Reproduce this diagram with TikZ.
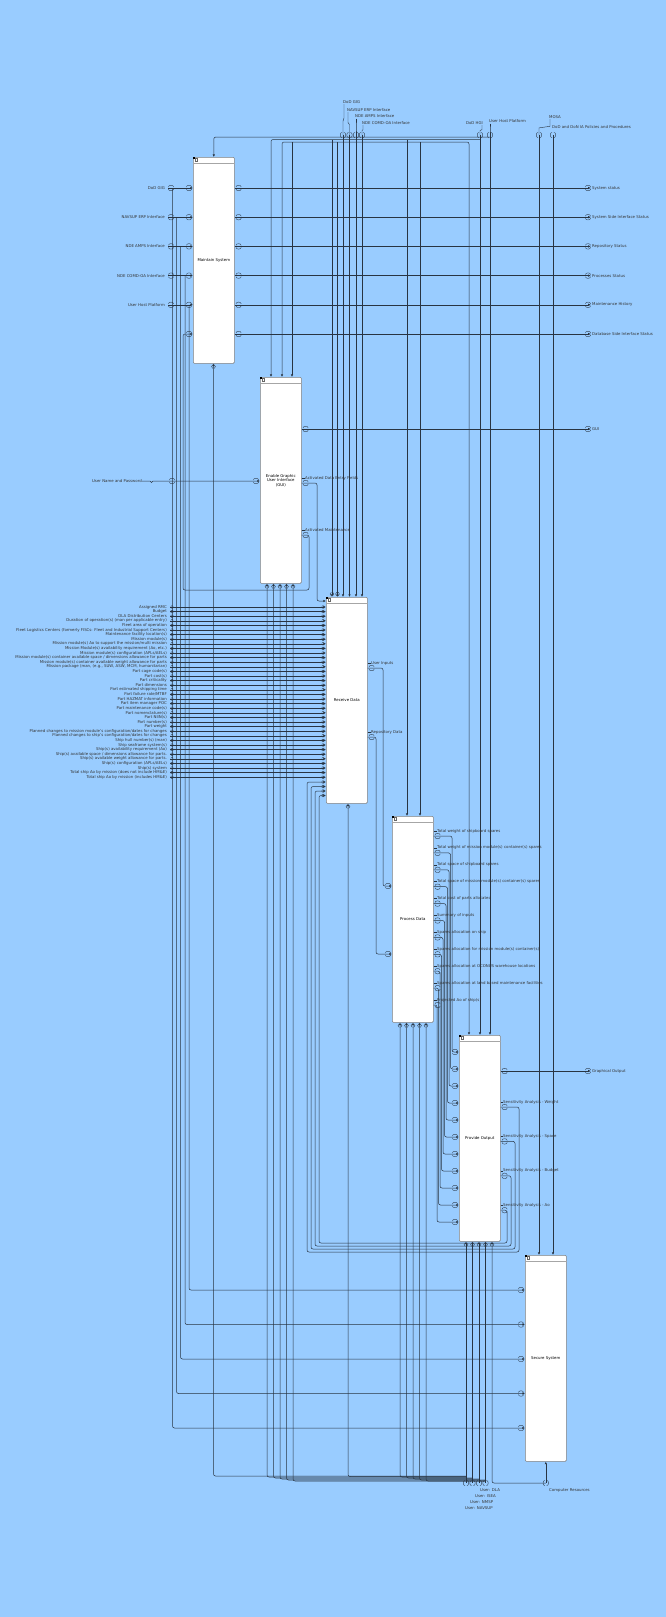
\documentclass[tikz,border=0pt]{standalone}
\usepackage{fontspec}
\setmainfont{DejaVu Sans}
\usetikzlibrary{arrows.meta,calc}
\definecolor{sheet}{RGB}{153,204,255}
\definecolor{wirec}{RGB}{40,52,66}
\tikzset{tun/.pic={\draw[wirec,line width=0.35pt,rounded corners=0pt]
  (-2.6,-1) .. controls (-2.6,-3.3) and (2.6,-3.3) .. (2.6,-1)
  (-2.6,1) .. controls (-2.6,3.3) and (2.6,3.3) .. (2.6,1);}}
\begin{document}
\begin{tikzpicture}[x=1pt,y=-1pt,>={Latex[length=2.6pt,width=2.4pt]},
  every node/.style={font=\fontsize{3.9}{4.5}\selectfont,inner sep=0pt}]
\tikzstyle{func}=[draw=black!50,fill=white,rounded corners=1pt,line width=0.6pt,
  minimum width=41pt,minimum height=206pt,anchor=north west,align=center]
\tikzstyle{wire}=[draw=wirec,line width=0.5pt,rounded corners=2pt]
\tikzstyle{lbl}=[text=black!80]

\fill[sheet] (0,0) rectangle (666,1617);
\useasboundingbox (0,0) rectangle (666,1617);

% activity boxes
\node[func] (ms) at (193,157) {Maintain System};
\node[func] (gu) at (260,377) {Enable Graphic\\User Interface\\(GUI)};
\node[func] (rd) at (326,597) {Receive Data};
\node[func] (pd) at (392,816) {Process Data};
\node[func] (po) at (459,1035) {Provide Output};
\node[func] (ss) at (525,1255) {Secure System};
\foreach \b in {ms,gu,rd,pd,po,ss}{
  \draw[black!35,line width=0.5pt] ([yshift=-6pt]\b.north west) -- ([yshift=-6pt]\b.north east);
  \fill[black] (\b.north west) rectangle ++(1.8,1.8);
  \draw[black!60,line width=0.25pt] ([shift={(2.4pt,-1.6pt)}]\b.north west) rectangle ++(1.8,2.6);
}

% controls at the top
\node[lbl,anchor=west] (tc0) at (343,102) {DoD GIG};
\node[lbl,anchor=west] (tc1) at (347,110) {NAVSUP ERP Interface};
\node[lbl,anchor=west] (tc2) at (355,116.5) {NDE AMPS Interface};
\node[lbl,anchor=west] (tc3) at (362,123) {NDE COMD-OA Interface};
\node[lbl,anchor=east] (tc4) at (483,123) {DoD HGI};
\node[lbl,anchor=west] (tc5) at (489,121.5) {User Host Platform};
\node[lbl,anchor=west] (tc6) at (549,117) {MOSA};
\node[lbl,anchor=west] (tc7) at (552,127) {DoD and DoN IA Policies and Procedures};
\foreach \i/\mx in {0/343,1/349.5,2/356,3/362,4/480,5/490,6/539,7/553}
  \coordinate (tm\i) at (\mx,135);
\foreach \i in {0,1,2,3,5,6}
  \draw[wire,rounded corners=0pt,line width=0.4pt] ([xshift=1pt,yshift=-0.5pt]tc\i.south west) coordinate (la)
    -- ($(la)!.45!(la |- tm\i)$) -- ($(tm\i)!.45!(tm\i |- la)$) -- (tm\i);
\draw[wire,rounded corners=0pt,line width=0.4pt] ([xshift=-1pt,yshift=-0.5pt]tc4.south east) coordinate (la)
    -- ($(la)!.45!(la |- tm4)$) -- ($(tm4)!.45!(tm4 |- la)$) -- (tm4);
\foreach \i in {0,1,2,3} \draw[wire,->] (tm\i) -- (tm\i |- rd.north);
\foreach \i in {4,5} \draw[wire,->] (tm\i) -- (tm\i |- po.north);
\foreach \i in {6,7} \draw[wire,->] (tm\i) -- (tm\i |- ss.north);
\draw[wire,->] (tm5 |- 0,137) -| (ms.north);
\draw[wire,->] (tm4 |- 0,139.5) -| (271,0 |- gu.north);
\draw[wire,<->] (469,0 |- po.north) |- (282,142) -- (282,0 |- gu.north);
\foreach \bx/\by/\t in {292/142/gu,332/139.5/rd,337.5/142/rd,407/139.5/pd,420/142/pd}
  \draw[wire,->] (\bx,\by) -- (\bx,0 |- \t.north);
\foreach \i in {0,...,7} \pic[rotate=90] at (tm\i) {tun};

% Maintain System
\foreach \lab [count=\i from 0] in {DoD GIG,NAVSUP ERP Interface,NDE AMPS Interface,NDE COMD-OA Interface,User Host Platform}{
  \node[lbl,anchor=east] (msl\i) at (165,188+29.2*\i) {\lab};
  \draw[wire,->] ([xshift=3pt]msl\i.east) -- (ms.west |- msl\i);
  \pic at ($(msl\i.east)+(6,0)$) {tun};
  \pic at ($(ms.west |- msl\i)+(-4,0)$) {tun};
}
\coordinate (msi5) at (ms.west |- 0,334);
\pic at ($(msi5)+(-4,0)$) {tun};
\foreach \lab [count=\i from 0] in {System status,System Side Interface Status,Repository Status,Processes Status,Maintenance History,Database Side Interface Status}{
  \node[lbl,anchor=west] (mso\i) at (592,188+29.2*\i) {\lab};
  \draw[wire,->,shorten >=1.2pt] (ms.east |- mso\i) -- (mso\i.west);
  \pic at ($(ms.east |- mso\i)+(4,0)$) {tun};
  \pic at ($(mso\i.west)+(-4,0)$) {tun};
}
\foreach \k in {0,...,4} \coordinate (ssi\k) at ($(ss.north west)+(0,35+34.5*\k)$);
\foreach \i/\vx/\k in {0/172.5/4,1/176.5/3,2/180.5/2,3/185/1,4/189/0}{
  \draw[wire,->] (\vx,0 |- msl\i) -- (\vx,0 |- ssi\k) -- (ssi\k);
  \pic at ($(ssi\k)+(-4,0)$) {tun};
}

% Enable GUI
\node[lbl,anchor=east] (gul) at (142,481) {User Name and Password};
\draw[wire,rounded corners=0pt,->] (gul.east) -- ++(8,0) -- ++(1.5,1.5) -- ++(1.5,-1.5) -- (gu.west |- gul);
\pic at ($(gul.east)+(30,0)$) {tun};
\pic at ($(gu.west |- gul)+(-4,0)$) {tun};
\node[lbl,anchor=west] (guo0) at (592,429) {GUI};
\draw[wire,->,shorten >=1.2pt] (gu.east |- guo0) -- (guo0.west);
\pic at ($(gu.east |- guo0)+(4,0)$) {tun};
\pic at ($(guo0.west)+(-4,0)$) {tun};
\node[lbl,anchor=west] (guo1) at (305,478) {Activated Data Entry Fields};
\node[lbl,anchor=west] (guo2) at (305,530) {Activated Maintenance};
\coordinate (rdi0) at (rd.west |- 0,601);
\foreach \i in {1,2}{
  \draw[wire] (gu.east |- guo\i) -- (guo\i.west);
  \pic at ($(gu.east |- guo\i)+(4,5)$) {tun};
}
\draw[wire,->] ($(gu.east |- guo1)+(0,5)$) -| (317,0 |- rdi0) -- (rdi0);
\draw[wire,->] ($(gu.east |- guo2)+(0,5)$) -| (309,590) -| (183,0 |- msi5) -- (msi5);

% Receive Data
\foreach \lab [count=\i from 0] in {Assigned RMC,Budget,DLA Distribution Centers,
  Duration of operation(s) (man per applicable entry),Fleet area of operation,
  Fleet Logistics Centers (formerly FISCs: Fleet and Industrial Support Centers),
  Maintenance facility location(s),Mission module(s),
  Mission module(s) Ao to support the mission/multi mission,
  {Mission Module(s) availability requirement (Ao, etc.)},
  Mission module(s) configuration (APLs/AELs),
  Mission module(s) container available space / dimensions allowance for parts,
  Mission module(s) container available weight allowance for parts,
  {Mission package (man, (e.g., SUW, ASW, MCM, humanitarian)},
  Part cage code(s),Part cost(s),Part criticality,Part dimensions,
  Part estimated shipping time,Part failure rate/MTBF,Part HAZMAT information,
  Part item manager POC,Part maintenance code(s),Part nomenclature(s),Part NIIN(s),
  Part number(s),Part weight,
  Planned changes to mission module's configuration/dates for changes,
  Planned changes to ship's configuration/dates for changes,
  Ship hull number(s) (man),Ship seaframe system(s),
  Ship(s) availability requirement (Ao),
  Ship(s) available space / dimensions allowance for parts.,
  Ship(s) available weight allowance for parts.,
  Ship(s) configuration (APLs/AELs),Ship(s) system,
  Total ship Ao by mission (does not include HM\&E),
  Total ship Ao by mission (includes HM\&E)}{
  \node[lbl,anchor=east] (rdl\i) at (167,607+4.6*\i) {\lab};
  \draw[wire,->] ([xshift=3pt]rdl\i.east) -- (rd.west |- rdl\i);
  \pic[scale=.5] at ($(rdl\i.east)+(5,0)$) {tun};
  \pic[scale=.5] at ($(rd.west |- rdl\i)+(-3,0)$) {tun};
}
\foreach \bx in {332,337.5} \pic[rotate=90,scale=.7] at ($(\bx,0 |- rd.north)+(0,-3)$) {tun};
\node[lbl,anchor=west] (rdo0) at (371,663) {User Inputs};
\node[lbl,anchor=west] (rdo1) at (371,732) {Repository Data};
\coordinate (pdi0) at (pd.west |- 0,886);
\coordinate (pdi1) at (pd.west |- 0,954);
\foreach \i/\vx in {0/383,1/376}{
  \draw[wire] (rd.east |- rdo\i) -- (rdo\i.west);
  \pic at ($(rd.east |- rdo\i)+(4,5)$) {tun};
  \draw[wire,->] ($(rd.east |- rdo\i)+(0,5)$) -| (\vx,0 |- pdi\i) -- (pdi\i);
  \pic at ($(pdi\i)+(-4,0)$) {tun};
}

% Process Data
\foreach \lab [count=\i from 0] in {Total weight of shipboard spares,
  Total weight of mission module(s) container(s) spares,Total space of shipboard spares,
  Total space of mission module(s) container(s) spares,Total cost of parts allocated,
  Summary of inputs,Spares allocation on ship,
  Spares allocation for mission module(s) container(s),
  Spares allocation at OCONUS warehouse locations,
  Spares allocation at land based maintenance facilities,Projected Ao of ship(s)}{
  \node[lbl,anchor=west] (pdo\i) at (437,831+16.9*\i) {\lab};
  \coordinate (poi\i) at (po.west |- 0,1052+17*\i);
  \pgfmathsetmacro\vx{452-1.5*\i}
  \draw[wire] (pd.east |- pdo\i) -- (pdo\i.west);
  \draw[wire,->] ($(pd.east |- pdo\i)+(0,5)$) -| (\vx,0 |- poi\i) -- (poi\i);
  \pic at ($(pd.east |- pdo\i)+(4,5)$) {tun};
  \pic at ($(poi\i)+(-4,0)$) {tun};
}

% Provide Output
\node[lbl,anchor=west] (poo0) at (592,1071) {Graphical Output};
\draw[wire,->,shorten >=1.2pt] (po.east |- poo0) -- (poo0.west);
\pic at ($(po.east |- poo0)+(4,0)$) {tun};
\pic at ($(poo0.west)+(-4,0)$) {tun};
\foreach \lab [count=\i from 1] in {Weight,Space,Budget,Ao}{
  \node[lbl,anchor=west] (poo\i) at (503,1102+34.4*\i-34.4) {Sensitivity Analysis - \lab};
  \coordinate (rdx\i) at (rd.west |- 0,777.5+4.5*\i);
  \pgfmathsetmacro\rx{523-4*\i}
  \pgfmathsetmacro\by{1255-3*\i}
  \pgfmathsetmacro\lx{303+4*\i}
  \draw[wire] (po.east |- poo\i) -- (poo\i.west);
  \draw[wire,->] ($(po.east |- poo\i)+(0,5)$) -| (\rx,\by) -| (\lx,0 |- rdx\i) -- (rdx\i);
  \pic at ($(po.east |- poo\i)+(4,5)$) {tun};
  \pic[scale=.5] at ($(rdx\i)+(-3,0)$) {tun};
}

% mechanisms down to the bottom
\foreach \j/\mx in {0/466,1/472.5,2/479,3/485.5}{
  \coordinate (bu\j) at (\mx,1483);
  \draw[wire,<-] (\mx,0 |- po.south) -- (bu\j);
  \pic[rotate=90] at (bu\j) {tun};
}
\coordinate (cr) at (ss.south |- 0,1483);
\draw[wire,<-] (492,0 |- po.south) |- (cr);
\draw[wire,<-] (ss.south) -- (cr);
\pic[rotate=90] at (cr) {tun};
\foreach \b/\mx/\j/\yy in {ms/213.5/0/1476,rd/348/0/1476.5,
  gu/267/0/1477,gu/273.5/1/1478,gu/280/2/1479,gu/286.5/3/1480,gu/293/3/1481,
  pd/400/0/1477,pd/406.5/1/1478,pd/413/2/1479,pd/419.5/3/1480,pd/426/3/1481}
  \draw[wire,<-] (\mx,0 |- \b.south) |- ($(bu\j)+(0,\yy-1483)$);
\foreach \b/\mx in {ms/213.5,rd/348,gu/267,gu/273.5,gu/280,gu/286.5,gu/293,
  pd/400,pd/406.5,pd/413,pd/419.5,pd/426,po/466,po/472.5,po/479,po/485.5,po/492}
  \pic[rotate=90,scale=.7] at ($(\mx,0 |- \b.south)+(0,3)$) {tun};
\node[lbl,anchor=north west] (us0) at (480,1488) {User: DLA};
\node[lbl,anchor=north west] (us1) at (475,1494) {User: ISEA};
\node[lbl,anchor=north west] (us2) at (470,1500) {User: NMSP};
\node[lbl,anchor=north west] (us3) at (465,1506) {User: NAVSUP};
\node[lbl,anchor=north west] (crl) at (549,1488) {Computer Resources};
\end{tikzpicture}
\end{document}
